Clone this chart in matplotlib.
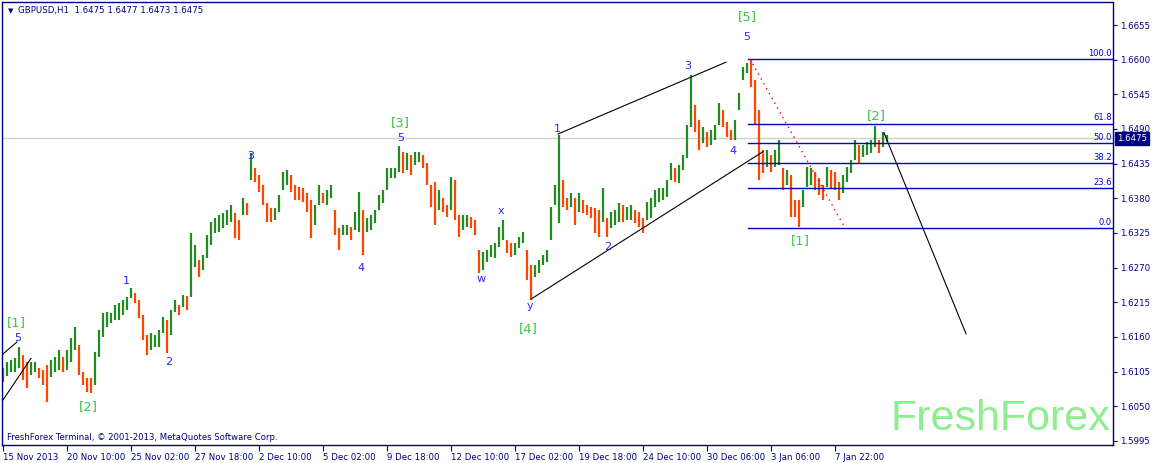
import numpy as np
import matplotlib.pyplot as plt
from matplotlib.transforms import blended_transform_factory, offset_copy

# GBPUSD H1 in blocks of 4 hourly bars (high / low)
high = [1.6110, 1.6120, 1.6123, 1.6126, 1.6144, 1.6131, 1.6120, 1.6120, 1.6120, 1.6110,
        1.6108, 1.6115, 1.6123, 1.6128, 1.6139, 1.6128, 1.6139, 1.6158, 1.6176, 1.6147,
        1.6105, 1.6095, 1.6095, 1.6136, 1.6171, 1.6198, 1.6200, 1.6198, 1.6211, 1.6214,
        1.6219, 1.6223, 1.6237, 1.6229, 1.6219, 1.6195, 1.6163, 1.6166, 1.6163, 1.6171,
        1.6192, 1.6187, 1.6203, 1.6219, 1.6211, 1.6226, 1.6225, 1.6325, 1.6306, 1.6282,
        1.6290, 1.6322, 1.6343, 1.6348, 1.6353, 1.6356, 1.6361, 1.6369, 1.6356, 1.6346,
        1.6380, 1.6372, 1.6452, 1.6428, 1.6417, 1.6401, 1.6372, 1.6364, 1.6364, 1.6385,
        1.6422, 1.6425, 1.6417, 1.6401, 1.6398, 1.6396, 1.6388, 1.6377, 1.6369, 1.6401,
        1.6388, 1.6393, 1.6401, 1.6361, 1.6333, 1.6338, 1.6338, 1.6335, 1.6358, 1.6390,
        1.6361, 1.6348, 1.6353, 1.6361, 1.6385, 1.6393, 1.6428, 1.6428, 1.6428, 1.6463,
        1.6454, 1.6452, 1.6449, 1.6454, 1.6454, 1.6449, 1.6436, 1.6401, 1.6406, 1.6393,
        1.6380, 1.6369, 1.6414, 1.6409, 1.6353, 1.6353, 1.6353, 1.6350, 1.6346, 1.6298,
        1.6295, 1.6298, 1.6306, 1.6309, 1.6335, 1.6346, 1.6314, 1.6309, 1.6309, 1.6319,
        1.6327, 1.6298, 1.6274, 1.6274, 1.6282, 1.6290, 1.6298, 1.6366, 1.6401, 1.6480,
        1.6409, 1.6380, 1.6388, 1.6380, 1.6388, 1.6377, 1.6369, 1.6366, 1.6364, 1.6361,
        1.6396, 1.6348, 1.6358, 1.6361, 1.6372, 1.6369, 1.6366, 1.6369, 1.6361, 1.6358,
        1.6348, 1.6374, 1.6380, 1.6393, 1.6396, 1.6396, 1.6409, 1.6436, 1.6428, 1.6433,
        1.6449, 1.6496, 1.6576, 1.6528, 1.6504, 1.6493, 1.6485, 1.6488, 1.6496, 1.6531,
        1.6520, 1.6501, 1.6488, 1.6504, 1.6547, 1.6588, 1.6594, 1.6601, 1.6568, 1.6520,
        1.6457, 1.6457, 1.6449, 1.6457, 1.6473, 1.6428, 1.6425, 1.6417, 1.6377, 1.6377,
        1.6393, 1.6430, 1.6428, 1.6422, 1.6412, 1.6401, 1.6430, 1.6425, 1.6422, 1.6406,
        1.6417, 1.6430, 1.6441, 1.6473, 1.6465, 1.6465, 1.6470, 1.6473, 1.6494, 1.6473,
        1.6485, 1.6480]
low = [1.6089, 1.6098, 1.6105, 1.6105, 1.6110, 1.6092, 1.6079, 1.6100, 1.6105, 1.6095,
       1.6084, 1.6057, 1.6097, 1.6105, 1.6108, 1.6105, 1.6108, 1.6120, 1.6139, 1.6100,
       1.6084, 1.6073, 1.6071, 1.6084, 1.6128, 1.6160, 1.6176, 1.6182, 1.6187, 1.6187,
       1.6195, 1.6203, 1.6221, 1.6214, 1.6190, 1.6155, 1.6131, 1.6139, 1.6144, 1.6144,
       1.6166, 1.6134, 1.6163, 1.6200, 1.6195, 1.6208, 1.6203, 1.6223, 1.6271, 1.6255,
       1.6266, 1.6285, 1.6306, 1.6325, 1.6327, 1.6333, 1.6338, 1.6343, 1.6317, 1.6314,
       1.6353, 1.6353, 1.6409, 1.6406, 1.6390, 1.6369, 1.6343, 1.6343, 1.6346, 1.6358,
       1.6393, 1.6401, 1.6390, 1.6377, 1.6377, 1.6374, 1.6358, 1.6317, 1.6338, 1.6369,
       1.6372, 1.6369, 1.6380, 1.6322, 1.6298, 1.6322, 1.6322, 1.6314, 1.6330, 1.6327,
       1.6290, 1.6327, 1.6330, 1.6341, 1.6361, 1.6372, 1.6393, 1.6412, 1.6412, 1.6422,
       1.6420, 1.6425, 1.6417, 1.6433, 1.6438, 1.6428, 1.6401, 1.6366, 1.6338, 1.6361,
       1.6358, 1.6350, 1.6361, 1.6346, 1.6319, 1.6330, 1.6335, 1.6333, 1.6322, 1.6261,
       1.6266, 1.6279, 1.6287, 1.6285, 1.6303, 1.6314, 1.6293, 1.6287, 1.6290, 1.6301,
       1.6309, 1.6250, 1.6219, 1.6255, 1.6261, 1.6274, 1.6279, 1.6314, 1.6369, 1.6341,
       1.6366, 1.6361, 1.6366, 1.6338, 1.6358, 1.6356, 1.6353, 1.6348, 1.6325, 1.6319,
       1.6343, 1.6319, 1.6333, 1.6338, 1.6343, 1.6343, 1.6346, 1.6346, 1.6341, 1.6335,
       1.6325, 1.6346, 1.6348, 1.6366, 1.6374, 1.6377, 1.6382, 1.6409, 1.6406, 1.6404,
       1.6425, 1.6444, 1.6493, 1.6485, 1.6457, 1.6468, 1.6462, 1.6465, 1.6473, 1.6496,
       1.6493, 1.6477, 1.6473, 1.6473, 1.6520, 1.6568, 1.6579, 1.6557, 1.6496, 1.6409,
       1.6420, 1.6430, 1.6422, 1.6430, 1.6433, 1.6393, 1.6401, 1.6350, 1.6350, 1.6335,
       1.6366, 1.6398, 1.6401, 1.6393, 1.6385, 1.6377, 1.6398, 1.6396, 1.6393, 1.6377,
       1.6388, 1.6406, 1.6420, 1.6441, 1.6436, 1.6446, 1.6449, 1.6452, 1.6462, 1.6452,
       1.6462, 1.6470]
hours_per_block = 4
last_price = 1.6475

xtick_hours = [0, 64, 128, 192, 256, 320, 384, 448, 512, 576, 640, 704, 768, 832]
xtick_labels = ["15 Nov 2013", "20 Nov 10:00", "25 Nov 02:00", "27 Nov 18:00", "2 Dec 10:00",
                "5 Dec 02:00", "9 Dec 18:00", "12 Dec 10:00", "17 Dec 02:00", "19 Dec 18:00",
                "24 Dec 10:00", "30 Dec 06:00", "3 Jan 06:00", "7 Jan 22:00"]
ytick_prices = [1.5995, 1.6050, 1.6105, 1.6160, 1.6215, 1.6270, 1.6325,
                1.6380, 1.6435, 1.6490, 1.6545, 1.6600, 1.6655]

# fibo retracement between wave 5 top and wave [1] low
fib_high, fib_low = 1.6601, 1.6333
fib_levels = [0.0, 23.6, 38.2, 50.0, 61.8, 100.0]
fib_start_hour, fib_end_hour = 745, 842

# trend lines: (hour1, price1, hour2, price2)
trend_lines = [(555, 1.6482, 723, 1.6596),
               (528, 1.6220, 760, 1.6454),
               (881, 1.6484, 963, 1.6165),
               (0, 1.6133, 14, 1.6152),
               (0, 1.6060, 28, 1.6126)]

# elliott wave marks: (text, hour, price, kind)
wave_marks = [("[5]", 744, 1.6668, "major"), ("5", 744, 1.6636, "minor"),
              ("3", 685, 1.6590, "minor"), ("1", 554, 1.6490, "minor"),
              ("[3]", 397, 1.6501, "major"), ("5", 398, 1.6476, "minor"),
              ("3", 248, 1.6447, "minor"), ("4", 358, 1.6269, "minor"),
              ("x", 498, 1.6360, "minor"), ("w", 478, 1.6252, "minor"),
              ("y", 527, 1.6209, "minor"), ("[4]", 525, 1.6174, "major"),
              ("2", 605, 1.6303, "minor"), ("4", 730, 1.6455, "minor"),
              ("[2]", 873, 1.6512, "major"), ("[1]", 797, 1.6313, "major"),
              ("1", 123, 1.6249, "minor"), ("2", 166, 1.6120, "minor"),
              ("[1]", 13, 1.6183, "major"), ("5", 15, 1.6158, "minor"),
              ("[2]", 85, 1.6049, "major")]

navy = "#000080"
up_col, down_col = "#228B22", "#FF4500"
W, H = 1154, 463

fig = plt.figure(figsize=(W / 100, H / 100), dpi=100)
ax = fig.add_axes([2 / W, (H - 445) / H, 1111 / W, 443 / H])
ax.set_xlim(-1, 1110)
ax.set_ylim(1.59885, 1.66915)

# bars
hi = np.array(high)
lo = np.array(low)
mid = (hi + lo) / 2
t = np.arange(len(hi)) * hours_per_block
prev = np.concatenate([[mid[0]], mid[:-1]])
cols = [up_col if m >= p else down_col for m, p in zip(mid, prev)]
ax.axhline(last_price, color="#D0D0D0", lw=1, zorder=0)
ax.vlines(t, lo, hi, colors=cols, lw=1.6, zorder=2)

# fibo
for lev in fib_levels:
    p = fib_low + (fib_high - fib_low) * lev / 100
    ax.plot([fib_start_hour, 1110], [p, p], color="#0000CD", lw=1, zorder=3)
    ax.text(1109, p + 0.0002, "%.1f" % lev, ha="right", va="bottom",
            fontsize=6, color="#0000CD", zorder=4)
ax.plot([fib_start_hour + 2, fib_end_hour], [fib_high, fib_low], color="red",
        lw=1, ls=(0, (1, 3)), zorder=3)

for x1, y1, x2, y2 in trend_lines:
    ax.plot([x1, x2], [y1, y2], color="black", lw=0.8, zorder=3)

for txt, hx, py, kind in wave_marks:
    if kind == "major":
        ax.text(hx, py, txt, ha="center", va="center", fontsize=9.5,
                color="#3CC83C", zorder=5)
    else:
        ax.text(hx, py, txt, ha="center", va="center", fontsize=8,
                color="#2828F0", zorder=5)

ax.text(0.9973, 0.034, "FreshForex", transform=ax.transAxes, ha="right",
        va="baseline", fontsize=31, color="#90EE90", family="Liberation Sans", zorder=1)

# axes styling
for sp in ax.spines.values():
    sp.set_color(navy)
    sp.set_linewidth(1)
ax.yaxis.tick_right()
ax.set_yticks(ytick_prices)
ax.set_yticklabels(["%.4f" % v for v in ytick_prices])
ax.set_xticks(xtick_hours)
ax.set_xticklabels(xtick_labels)
for lbl in ax.get_xticklabels():
    lbl.set_ha("left")
ax.tick_params(axis="y", direction="out", length=3, color=navy, labelcolor=navy,
               labelsize=6.2, pad=2)
ax.tick_params(axis="x", direction="out", length=4, color=navy, labelcolor=navy,
               labelsize=6.2, pad=1.5)

# current price tag
tr = blended_transform_factory(ax.transAxes, ax.transData)
ax.text(1.0, last_price, "1.6475", transform=offset_copy(tr, fig=fig, x=4, y=0, units="dots"),
        ha="left", va="center", fontsize=6.2, color="white", zorder=10, clip_on=False,
        bbox=dict(facecolor=navy, edgecolor=navy, pad=1.5))

fig.text(8 / W, 1 - 11 / H, "\u25bc", fontsize=5, color=navy, va="center")
fig.text(18 / W, 1 - 11 / H, "GBPUSD,H1  1.6475 1.6477 1.6473 1.6475", fontsize=6.2,
         color=navy, va="center")
fig.text(7 / W, 1 - 437 / H, "FreshForex Terminal, \u00a9 2001-2013, MetaQuotes Software Corp.",
         fontsize=6.1, color=navy, va="center")

fig.savefig("out.png", dpi=100, facecolor="white")
